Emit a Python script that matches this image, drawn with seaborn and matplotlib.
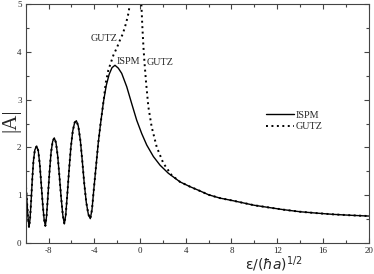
import numpy as np
import pandas as pd
import matplotlib
matplotlib.use('Agg')
import matplotlib.pyplot as plt
from matplotlib.ticker import MultipleLocator
import seaborn as sns

# shared oscillating part (both curves coincide here)
osc_x = [-10, -9.9, -9.8, -9.71, -9.62, -9.52, -9.42, -9.32, -9.2, -9.04,
         -8.9, -8.77, -8.63, -8.5, -8.38, -8.28, -8.18, -8.05, -7.92, -7.78,
         -7.64, -7.5, -7.35, -7.2, -7.05, -6.9, -6.75, -6.62, -6.5, -6.35,
         -6.2, -6.05, -5.88, -5.72, -5.57, -5.4, -5.22, -5.05, -4.88, -4.7,
         -4.52, -4.35, -4.2, -4.05, -3.85, -3.65, -3.45, -3.2]
osc_y = [1.28, 0.92, 0.55, 0.33, 0.50, 0.90, 1.35, 1.72, 1.95, 2.03,
         1.93, 1.65, 1.20, 0.78, 0.48, 0.36, 0.55, 1.00, 1.48, 1.90,
         2.13, 2.20, 2.10, 1.82, 1.40, 0.95, 0.58, 0.40, 0.58, 1.05,
         1.55, 2.00, 2.35, 2.52, 2.56, 2.45, 2.15, 1.72, 1.25, 0.85,
         0.60, 0.51, 0.70, 1.10, 1.60, 2.10, 2.50, 2.95]

# ISPM beyond the oscillations
ispm_tail_x = [-2.95, -2.7, -2.45, -2.19, -1.9, -1.6, -1.16, -0.73, -0.29, 0.15,
               0.59, 1.17, 1.75, 2.48, 3.5, 4.37, 5.25, 6.0, 7.0, 8.16,
               10.0, 11.1, 12.5, 14.0, 15.5, 16.9, 18.5, 20.0]
ispm_tail_y = [3.30, 3.53, 3.67, 3.72, 3.66, 3.55, 3.27, 2.92, 2.57, 2.29,
               2.05, 1.81, 1.63, 1.46, 1.28, 1.18, 1.09, 1.01, 0.94, 0.885,
               0.79, 0.75, 0.70, 0.655, 0.625, 0.60, 0.58, 0.565]

# GUTZ left branch after it leaves ISPM
gutz_left_tail_x = [-3.0, -2.77, -2.54, -2.33, -2.0, -1.75, -1.5, -1.22, -1.0, -0.87, -0.75]
gutz_left_tail_y = [3.35, 3.62, 3.78, 3.93, 4.10, 4.25, 4.38, 4.60, 4.82, 5.05, 5.30]

# GUTZ right branch
gutz_right_x = [0.05, 0.1, 0.2, 0.3, 0.4, 0.53, 0.73, 1.02, 1.46, 2.04,
                2.77, 3.5, 4.37, 5.25, 6.0, 7.0, 8.16, 10.0, 11.1, 12.5,
                14.0, 15.5, 16.9, 18.5, 20.0]
gutz_right_y = [5.30, 5.10, 4.55, 4.10, 3.75, 3.36, 2.85, 2.43, 2.01, 1.67,
                1.42, 1.28, 1.18, 1.09, 1.01, 0.94, 0.885, 0.79, 0.75, 0.70,
                0.655, 0.625, 0.60, 0.58, 0.565]

ispm = pd.DataFrame({'x': osc_x + ispm_tail_x, 'y': osc_y + ispm_tail_y})
gutz_left = pd.DataFrame({'x': osc_x + gutz_left_tail_x, 'y': osc_y + gutz_left_tail_y})
gutz_right = pd.DataFrame({'x': gutz_right_x, 'y': gutz_right_y})

sns.set_style('ticks')
plt.rcParams['font.family'] = ['Liberation Serif', 'DejaVu Serif']
plt.rcParams['axes.unicode_minus'] = False
plt.rcParams['mathtext.fontset'] = 'dejavusans'
plt.rcParams['path.simplify'] = False

fig = plt.figure(figsize=(3.74, 2.74), dpi=100)
ax = fig.add_axes([0.0687, 0.113, 0.917, 0.872])

sns.lineplot(data=ispm, x='x', y='y', ax=ax, color='black', lw=1.0, label='ISPM')
sns.lineplot(data=gutz_left, x='x', y='y', ax=ax, color='black', lw=1.4, label='GUTZ')
sns.lineplot(data=gutz_right, x='x', y='y', ax=ax, color='black', lw=1.4)

# dotted style for the two GUTZ branches
for ln in ax.lines[1:3]:
    ln.set_linestyle((0, (1, 1.8)))
    ln.set_dash_capstyle('butt')

ax.set_xlim(-10, 20)
ax.set_ylim(0, 5)
ax.xaxis.set_major_locator(MultipleLocator(4))
ax.xaxis.set_minor_locator(MultipleLocator(2))
ax.yaxis.set_major_locator(MultipleLocator(1))
ax.yaxis.set_minor_locator(MultipleLocator(0.5))
ax.tick_params(which='both', direction='in', top=True, right=True,
               width=0.8, labelsize=6.5, color='#444444')
ax.tick_params(which='major', length=3.6, pad=3)
ax.tick_params(axis='x', which='major', pad=2.5)
ax.tick_params(which='minor', length=2.2)
for s in ax.spines.values():
    s.set_linewidth(0.8)
    s.set_color('#444444')

ax.text(-4.29, 4.29, 'GUTZ', fontsize=7.3, ha='left', va='center')
ax.text(-2.01, 3.79, 'ISPM', fontsize=7.3, ha='left', va='center')
ax.text(0.61, 3.77, 'GUTZ', fontsize=7.3, ha='left', va='center')

ax.set_ylabel('|A|', fontsize=15)
ax.yaxis.set_label_coords(-0.015, 0.515)
ax.set_xlabel(r'$\mathrm{\varepsilon}/(\hbar a)^{1/2}$', fontsize=10)
ax.xaxis.set_label_coords(0.722, -0.047)

ax.legend(loc='center left', bbox_to_anchor=(0.70, 0.511), frameon=False,
          fontsize=7.3, handlelength=2.8, handletextpad=0.1,
          borderpad=0, labelspacing=0.25, borderaxespad=0)

fig.savefig('out.png', dpi=100)
